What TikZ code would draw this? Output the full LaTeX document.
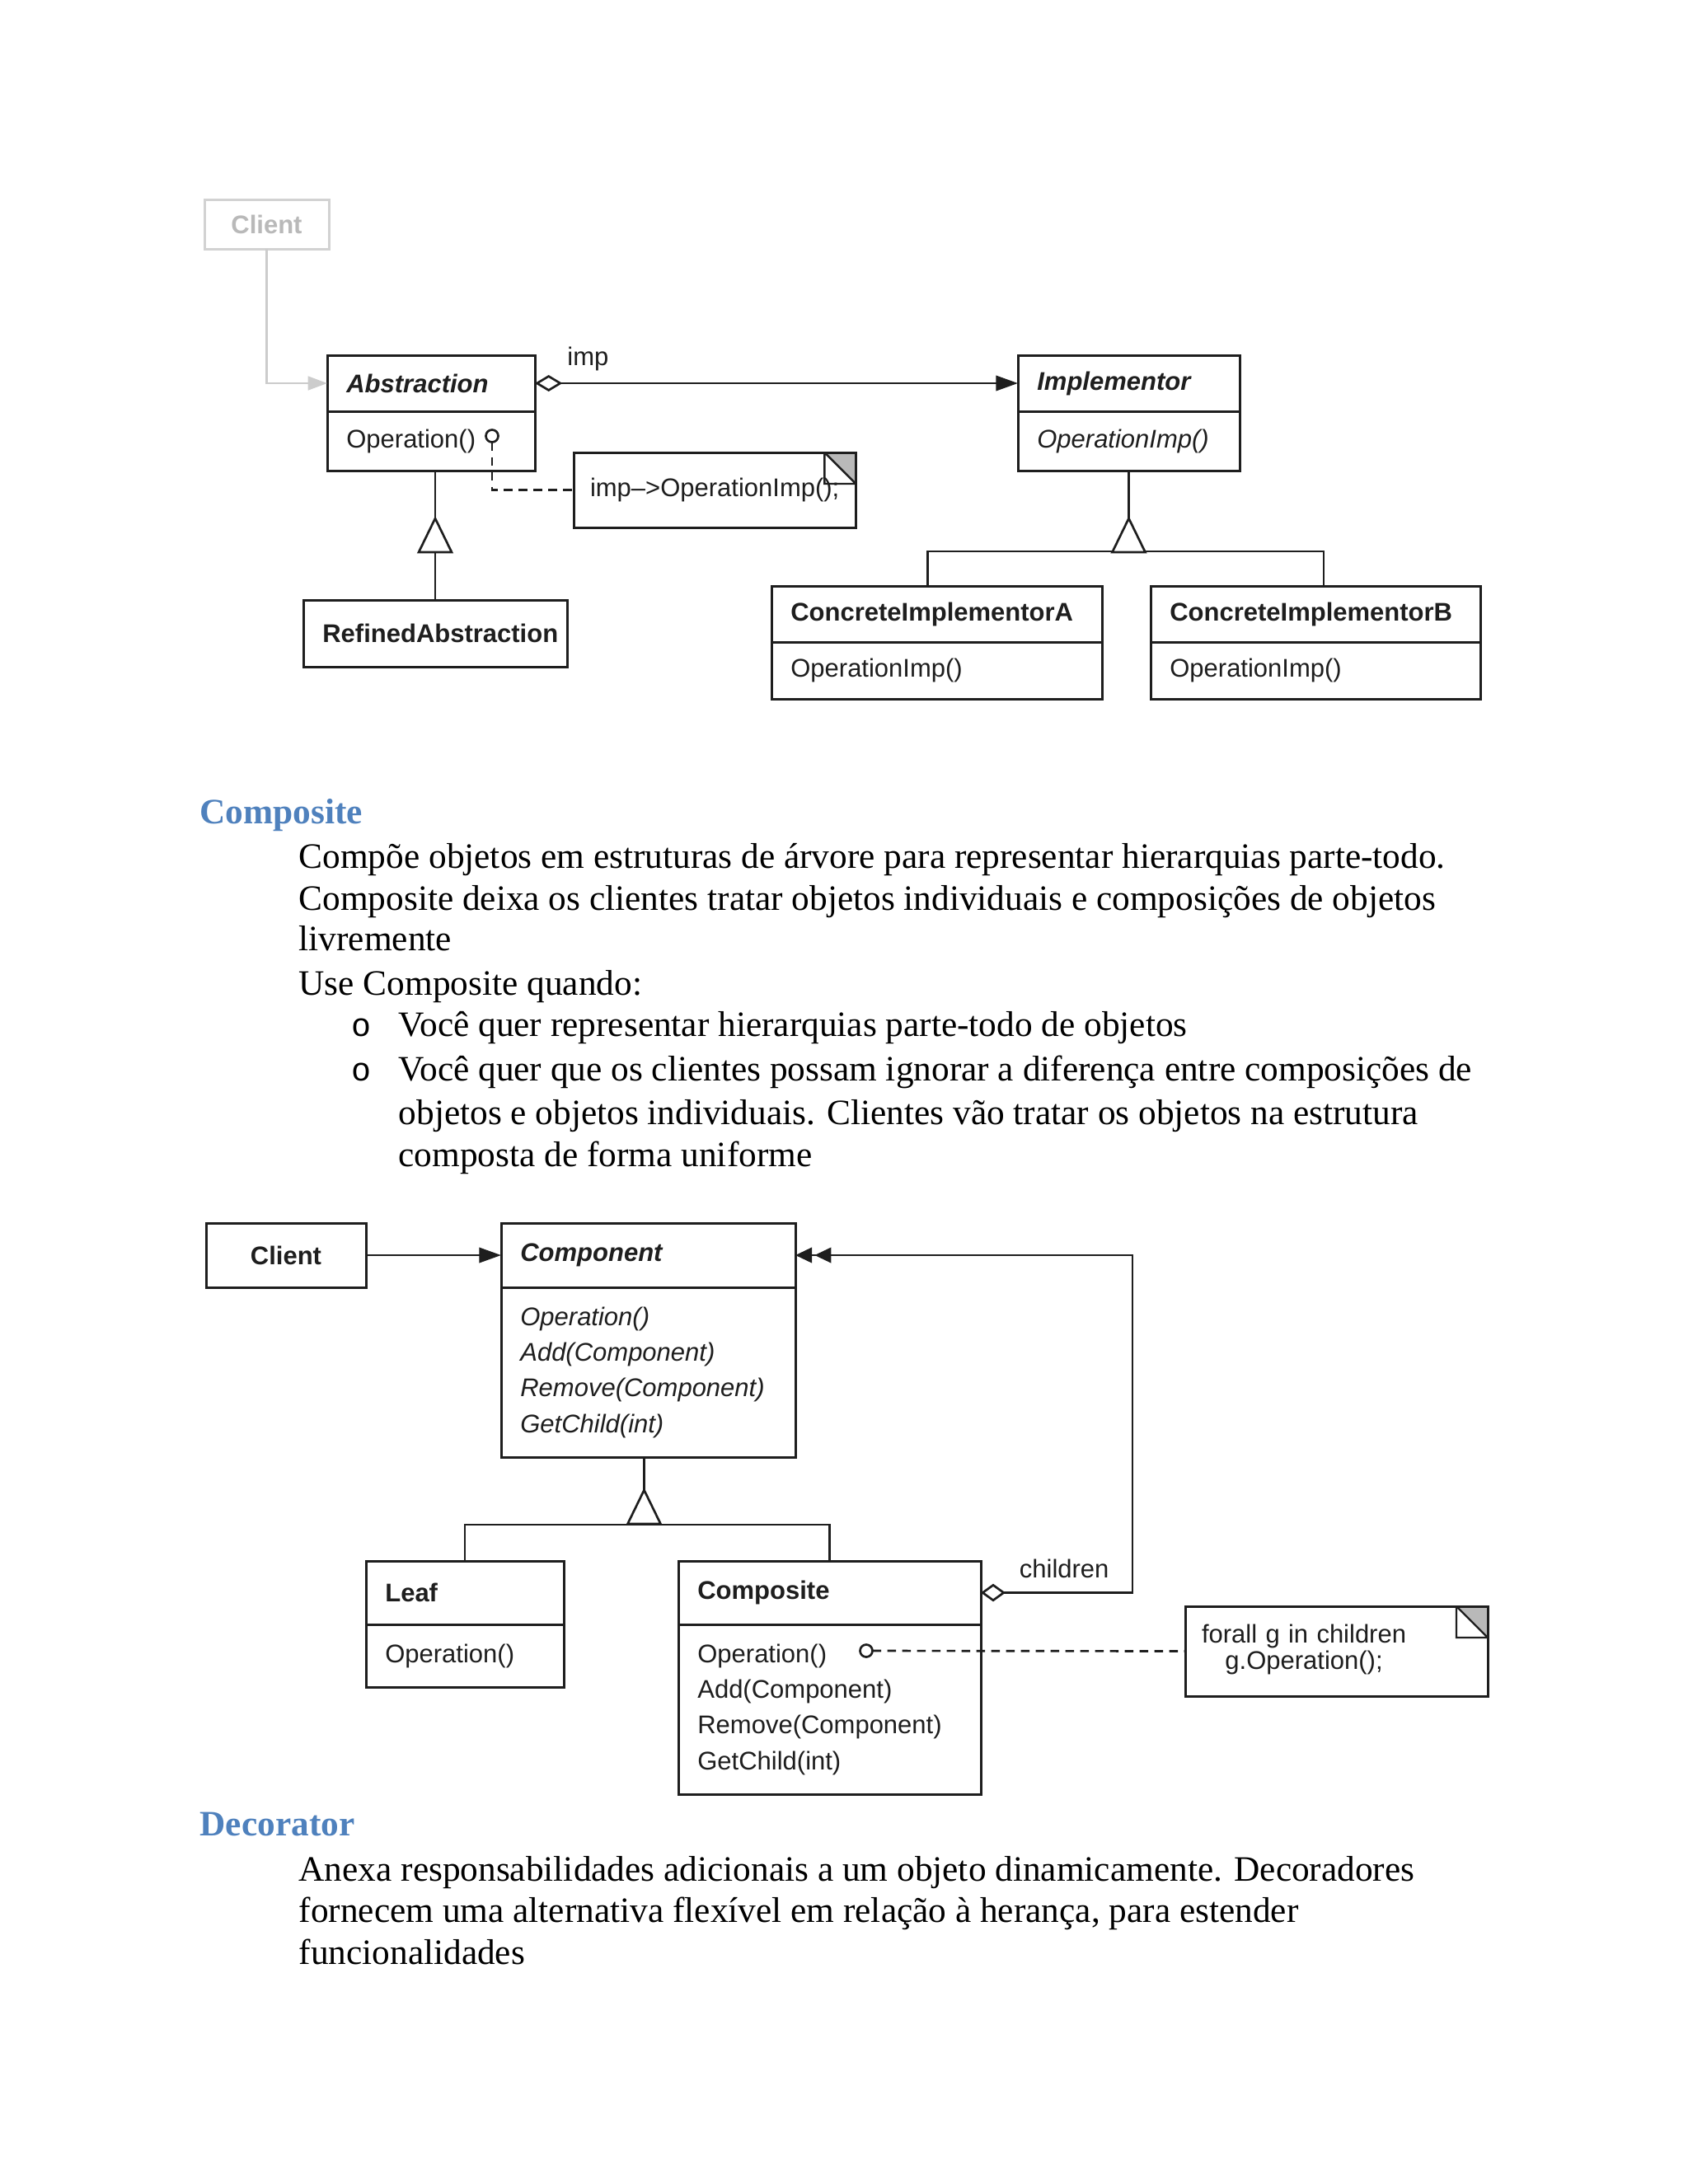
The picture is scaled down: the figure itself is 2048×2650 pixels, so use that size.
\documentclass[tikz,border=0pt]{standalone}
\usepackage{fontspec}
\setmainfont{Liberation Serif}
\setsansfont{Liberation Sans}
\setmonofont{Liberation Mono}
\usetikzlibrary{arrows.meta,positioning}

\definecolor{headblue}{HTML}{4F81BD}
\definecolor{umlink}{HTML}{1E1E1E}
\newlength{\unitpx}
\setlength{\unitpx}{0.3pt}
\newcommand{\umlfont}{\sffamily\fontsize{9.3}{13}\selectfont}

\tikzset{
	umlbox/.style={draw=umlink, line width=0.9pt, outer sep=0pt, inner xsep=7pt, inner ysep=0pt,
		text width=#1\unitpx-14pt, align=left, text=umlink, font=\umlfont},
	classname/.style={umlbox=#1, anchor=north west, font=\umlfont\bfseries},
	abstractname/.style={umlbox=#1, anchor=north west, font=\umlfont\bfseries\itshape},
	classops/.style={umlbox=#1},
	abstractops/.style={umlbox=#1, font=\umlfont\itshape},
	umlnote/.style={draw=umlink, line width=0.9pt, outer sep=0pt, anchor=north west, inner xsep=6pt,
		text=umlink, font=\umlfont,
		path picture={
			\fill[gray!55] ([xshift=-38\unitpx]path picture bounding box.north east)
				-- (path picture bounding box.north east)
				-- ([yshift=-38\unitpx]path picture bounding box.north east) -- cycle;
			\draw[umlink, line width=0.7pt, fill=white] ([xshift=-38\unitpx]path picture bounding box.north east)
				-- ([xshift=-38\unitpx,yshift=-38\unitpx]path picture bounding box.north east)
				-- ([yshift=-38\unitpx]path picture bounding box.north east) -- cycle;
		}},
	lollipop/.style={circle, draw=umlink, line width=0.8pt, fill=white, inner sep=0pt, outer sep=0pt,
		minimum size=15\unitpx},
	umllabel/.style={text=umlink, font=\umlfont, inner sep=1pt},
	clientlink/.style={draw=gray!40, line width=0.8pt, -{Triangle[length=7pt, width=5pt, fill=gray!40]}},
	uselink/.style={draw=umlink, line width=0.8pt, -{Triangle[length=8pt, width=5.5pt]}},
	implink/.style={draw=umlink, line width=0.8pt, {Diamond[open, length=10pt, width=6pt]}-{Triangle[length=8pt, width=5.5pt]}},
	childlink/.style={draw=umlink, line width=0.8pt,
		{Diamond[open, length=9pt, width=6.5pt]}-{Triangle[length=6pt, width=5.5pt, sep=1pt]Triangle[length=6pt, width=5.5pt]}},
	notelink/.style={draw=umlink, line width=0.8pt, dash pattern=on 3.2pt off 2.2pt},
	treeline/.style={draw=umlink, line width=0.8pt},
	gentri/.pic={\draw[umlink, line width=0.8pt, fill=white] (0,0) -- (-20,41) -- (20,41) -- cycle;},
	sectionhead/.style={anchor=base west, inner sep=0pt, text=headblue, font=\fontsize{13}{15}\selectfont\bfseries},
	bodyline/.style={anchor=base west, inner sep=0pt, font=\fontsize{13}{15}\selectfont},
	bulletmark/.style={anchor=base west, inner sep=0pt, font=\ttfamily\fontsize{12}{14}\selectfont}
}

\begin{document}
\begin{tikzpicture}[x=\unitpx, y=-\unitpx]
	\fill[white] (0,0) rectangle (2048,2650);
	\useasboundingbox (0,0) rectangle (2048,2650);

	% bridge
	\node[classname=151, minimum height=60\unitpx, draw=gray!35, text=gray!55, align=center] (client) at (248,242) {Client};

	\node[abstractname=252, minimum height=68\unitpx] (abstraction) at (397,431) {Abstraction};
	\node[classops=252, below=0pt of abstraction, minimum height=72\unitpx] (abstractionops) {Operation()};

	\node[abstractname=269, minimum height=68\unitpx] (implementor) at (1235,431) {Implementor};
	\node[abstractops=269, below=0pt of implementor, minimum height=72\unitpx] (implementorops) {OperationImp()};

	\node[classname=320, minimum height=81\unitpx, align=center] (refined) at (368,728) {RefinedAbstraction};

	\node[classname=401, minimum height=68\unitpx] (concretea) at (936,711) {ConcreteImplementorA};
	\node[classops=401, below=0pt of concretea, minimum height=69\unitpx] (concreteaops) {OperationImp()};
	\node[classname=400, minimum height=68\unitpx] (concreteb) at (1396,711) {ConcreteImplementorB};
	\node[classops=400, below=0pt of concreteb, minimum height=69\unitpx] (concretebops) {OperationImp()};

	\node[umlnote, minimum width=342\unitpx, minimum height=91\unitpx] (impnote) at (696,549) {imp–>OperationImp();};
	\node[lollipop] (impcall) at (597,529) {};

	\draw[clientlink] (client.south) |- (abstraction.west);
	\draw[implink] (abstraction.east) -- node[umllabel, pos=0.11, above=3pt] (implabel) {imp} (implementor.west);
	\draw[notelink] (impcall.south) |- (impnote.west);

	\draw[treeline] (refined.north) -- (refined.north |- abstractionops.south);
	\pic at ([yshift=-58\unitpx]refined.north |- abstractionops.south) {gentri};
	\draw[treeline] (implementorops.south) -- ++(0,98);
	\draw[treeline] ([xshift=-11\unitpx]concretea.north) -- ++(0,-42) -| ([xshift=10\unitpx]concreteb.north);
	\pic at ([yshift=-58\unitpx]implementorops.south) {gentri};

	% composite text
	\node[sectionhead] (headcomposite) at (242,999) {Composite};
	\node[bodyline] (composite1) at (362,1053) {Compõe objetos em estruturas de árvore para representar hierarquias parte-todo.};
	\node[bodyline] (composite2) at (362,1104) {Composite deixa os clientes tratar objetos individuais e composições de objetos};
	\node[bodyline] (composite3) at (362,1153) {livremente};
	\node[bodyline] (composite4) at (362,1207) {Use Composite quando:};
	\node[bulletmark] (bulleta) at (426,1257) {o};
	\node[bodyline] (itema) at (483,1257) {Você quer representar hierarquias parte-todo de objetos};
	\node[bulletmark] (bulletb) at (426,1311) {o};
	\node[bodyline] (itemb1) at (483,1311) {Você quer que os clientes possam ignorar a diferença entre composições de};
	\node[bodyline] (itemb2) at (483,1364) {objetos e objetos individuais. Clientes vão tratar os objetos na estrutura};
	\node[bodyline] (itemb3) at (483,1415) {composta de forma uniforme};

	% composite
	\node[classname=194, minimum height=78\unitpx, align=center] (client2) at (250,1484) {Client};

	\node[abstractname=357, minimum height=78\unitpx] (component) at (608,1484) {Component};
	\node[abstractops=357, below=0pt of component, minimum height=206\unitpx] (componentops)
		{Operation()\\Add(Component)\\Remove(Component)\\GetChild(int)};

	\node[classname=240, minimum height=77\unitpx] (leaf) at (444,1894) {Leaf};
	\node[classops=240, below=0pt of leaf, minimum height=76\unitpx] (leafops) {Operation()};

	\node[classname=367, minimum height=77\unitpx] (composite) at (823,1894) {Composite};
	\node[classops=367, below=0pt of composite, minimum height=206\unitpx] (compositeops)
		{Operation()\\Add(Component)\\Remove(Component)\\GetChild(int)};

	\node[umlnote, text width=367\unitpx-12pt, minimum height=109\unitpx, align=left] (childnote) at (1438,1949)
		{\fontsize{9.3}{9.6}\selectfont\begin{tabular}{@{}c@{}}forall g in children\\g.Operation();\end{tabular}};
	\node[lollipop] (childcall) at (1051,2003) {};
	\coordinate (childx) at (1374,1527);

	\draw[uselink] (client2.east) -- (component.west);
	\draw[childlink] (composite.east) -- node[umllabel, pos=0.55, above=4pt] (childlabel) {children}
		(composite.east -| childx) |- (component.east);
	\draw[notelink] (childcall.east) -- (childnote.west);

	\draw[treeline] ([xshift=-5\unitpx]componentops.south) -- ++(0,82);
	\draw[treeline] (leaf.north) -- ++(0,-44) -| (composite.north);
	\pic at ([xshift=-5\unitpx,yshift=-40\unitpx]componentops.south) {gentri};

	% decorator text
	\node[sectionhead] (headdecorator) at (242,2227) {Decorator};
	\node[bodyline] (decorator1) at (362,2282) {Anexa responsabilidades adicionais a um objeto dinamicamente. Decoradores};
	\node[bodyline] (decorator2) at (362,2332) {fornecem uma alternativa flexível em relação à herança, para estender};
	\node[bodyline] (decorator3) at (362,2383) {funcionalidades};
\end{tikzpicture}
\end{document}
